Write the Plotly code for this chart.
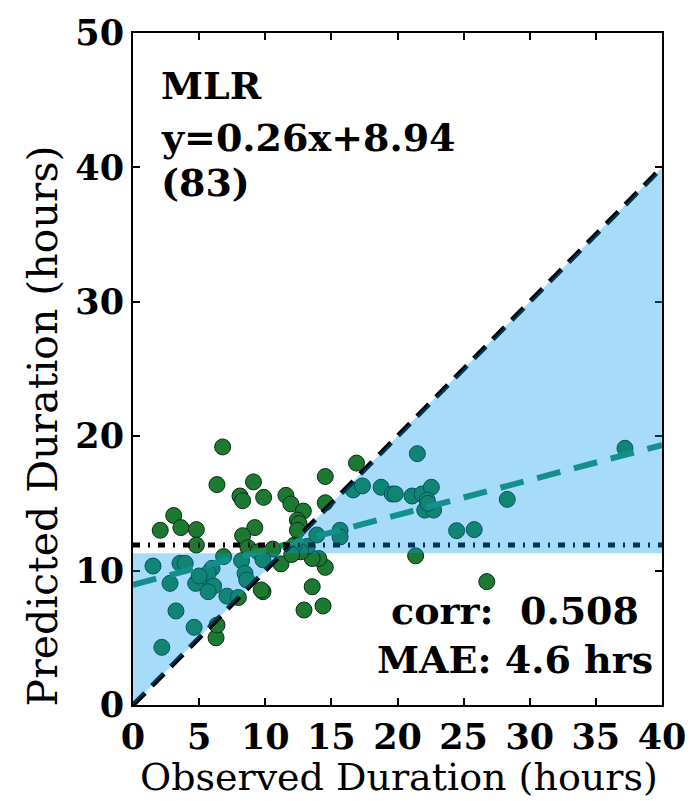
import numpy as np
import plotly.graph_objects as go

# Observed vs predicted durations (hours)
observed = [6.78, 6.35, 9.11, 8.09, 8.29, 9.88, 3.08, 2.06, 3.62, 4.79,
            4.79, 9.21, 8.29, 14.54, 16.9, 11.56, 11.94, 12.88, 12.43, 12.56,
            12.43, 14.54, 21.37, 26.75, 13.55, 12.93, 14.37, 14.54, 14.05, 13.55,
            6.28, 9.83, 8.7, 13.18, 16.65, 17.35, 18.76, 19.6, 13.9, 15.66,
            15.66, 10.57, 21.5, 19.83, 21.1, 21.86, 22.56, 22.24, 22.06, 22.73,
            28.3, 24.47, 25.8, 37.2, 1.51, 3.55, 3.95, 2.8, 5.98, 5.68,
            4.99, 4.74, 6.1, 5.68, 7.1, 7.97, 6.85, 8.21, 8.47, 8.6,
            9.7, 3.25, 4.62, 6.35, 2.18, 9.45, 9.83, 11.19, 12.68, 12.2,
            5.0, 12.0, 22.3]
predicted = [19.2, 16.4, 16.6, 15.55, 15.2, 15.45, 14.1, 13.0, 13.2, 13.05,
             11.9, 13.2, 12.6, 17.0, 18.0, 15.6, 14.96, 14.43, 13.76, 13.5,
             13.0, 15.05, 11.1, 9.18, 8.8, 7.07, 7.37, 10.24, 10.9, 10.9,
             5.0, 8.43, 11.7, 11.8, 16.0, 16.3, 16.2, 15.7, 12.65, 13.0,
             12.5, 11.6, 18.7, 15.7, 15.55, 15.7, 16.2, 15.25, 14.5, 14.5,
             15.3, 12.97, 13.05, 19.1, 10.34, 10.54, 10.54, 9.05, 10.17, 9.8,
             9.18, 9.05, 8.85, 8.43, 8.1, 8.0, 11.04, 10.74, 9.8, 9.3,
             8.56, 7.0, 5.78, 5.95, 4.29, 11.4, 10.8, 10.5, 11.4, 11.9,
             9.6, 11.2, 15.0]

slope = 0.26
intercept = 8.94
fill_level = 11.3      # horizontal edge of shaded region
ref_level = 11.9       # dotted reference line
axis_max = 40
y_max = 50
corr = 0.508
mae = 4.6
n_points = 83

FONT = "DejaVu Serif"

fig = go.Figure()

xline = np.array([0, axis_max])

# scatter points
fig.add_trace(go.Scatter(
    x=observed, y=predicted, mode="markers",
    marker=dict(size=16, color="#1b7a30", line=dict(color="#0b2a20", width=1)),
    showlegend=False, hoverinfo="skip"))

# 1:1 line
fig.add_trace(go.Scatter(
    x=xline, y=xline, mode="lines",
    line=dict(color="black", width=5, dash="17px,10px"),
    showlegend=False, hoverinfo="skip"))

# regression line
fig.add_trace(go.Scatter(
    x=xline, y=slope * xline + intercept, mode="lines",
    line=dict(color="#1e8a5a", width=6, dash="24px,14px"),
    showlegend=False, hoverinfo="skip"))

# dotted reference line
fig.add_trace(go.Scatter(
    x=xline, y=[ref_level, ref_level], mode="lines",
    line=dict(color="black", width=5, dash="7px,8px,2px,8px"),
    showlegend=False, hoverinfo="skip"))

# shaded region between 1:1 line and fill level, drawn above the data
fl = fill_level
am = axis_max
shade_path = (f"M 0,0 L 0,{fl} L {fl},{fl} Z "
              f"M {fl},{fl} L {am},{fl} L {am},{am} Z")
fig.add_shape(type="path", path=shade_path, xref="x", yref="y",
              fillcolor="rgba(0,155,240,0.35)", line=dict(width=0),
              layer="above")

ann_font = dict(family=FONT, size=38, color="black")
fig.add_annotation(x=2.0, y=46.06, xref="x", yref="y", text="<b>MLR</b>",
                   showarrow=False, xanchor="left", yanchor="middle", font=ann_font)
fig.add_annotation(x=2.0, y=42.25, xref="x", yref="y",
                   text=f"<b>y={slope:.2f}x+{intercept:.2f}</b>",
                   showarrow=False, xanchor="left", yanchor="middle", font=ann_font)
fig.add_annotation(x=2.0, y=38.9, xref="x", yref="y", text=f"<b>({n_points})</b>",
                   showarrow=False, xanchor="left", yanchor="middle", font=ann_font)
fig.add_annotation(x=28.9, y=7.0, xref="x", yref="y",
                   text=f"<b>corr:  {corr:.3f}</b>",
                   showarrow=False, xanchor="center", yanchor="middle", font=ann_font)
fig.add_annotation(x=28.9, y=3.35, xref="x", yref="y",
                   text=f"<b>MAE: {mae} hrs</b>",
                   showarrow=False, xanchor="center", yanchor="middle", font=ann_font)

# axis titles
fig.add_annotation(x=0.503, y=-0.107, xref="paper", yref="paper",
                   text="Observed Duration (hours)", showarrow=False,
                   xanchor="center", yanchor="middle",
                   font=dict(family=FONT, size=38, color="black"))
fig.add_annotation(x=-0.1695, y=0.415, xref="paper", yref="paper",
                   text="Predicted Duration (hours)", showarrow=False, textangle=-90,
                   xanchor="center", yanchor="middle",
                   font=dict(family=FONT, size=41, color="black"))

axis_common = dict(
    showgrid=False, zeroline=False, showline=True, linecolor="black", linewidth=2,
    mirror="allticks", ticks="inside", ticklen=7, tickwidth=1.5, tickcolor="black",
    tickfont=dict(family=FONT, size=35, color="black"),
    ticklabeloverflow="allow",
)

fig.update_xaxes(range=[0, axis_max], tickvals=list(range(0, axis_max + 1, 5)),
                 ticktext=[f"<b>{v}</b>" for v in range(0, axis_max + 1, 5)],
                 **axis_common)
fig.update_yaxes(range=[0, y_max], tickvals=list(range(0, y_max + 1, 10)),
                 ticktext=[f"<b>{v}</b>" for v in range(0, y_max + 1, 10)],
                 **axis_common)

fig.update_layout(
    width=698, height=801,
    margin=dict(l=133, r=23, t=33, b=96),
    plot_bgcolor="white", paper_bgcolor="white",
)

fig.write_html("out.html")
